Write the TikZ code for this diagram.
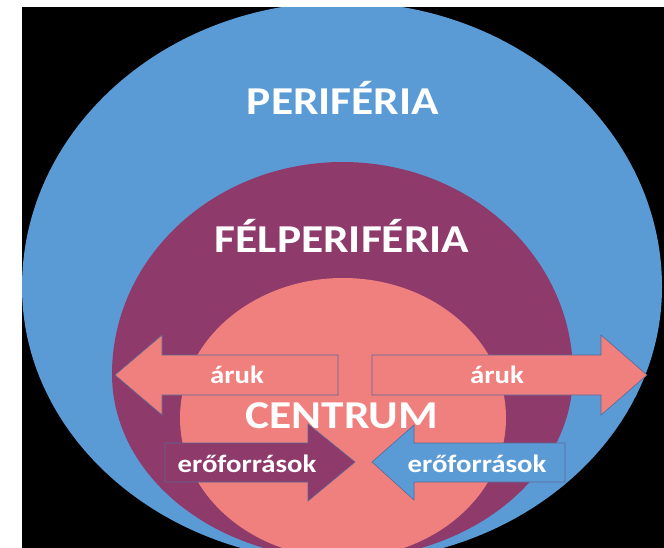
\documentclass[tikz,border=0pt]{standalone}
\usepackage{fontspec}
\setmainfont{Carlito}
\newfontfamily\diagfont[FakeStretch=1.15]{Carlito}

\definecolor{outerblue}{RGB}{91,155,213}
\definecolor{midpurple}{RGB}{142,59,108}
\definecolor{corepink}{RGB}{240,128,126}
\definecolor{edgeblue}{RGB}{88,104,150}

\begin{document}
\begin{tikzpicture}[
    x=1pt, y=-1pt,
    ringtext/.style={font=\diagfont\bfseries\fontsize{39.5}{40}\selectfont, text=white, anchor=base, inner sep=0pt},
    flowtext/.style={font=\diagfont\bfseries\fontsize{25}{26}\selectfont, text=white, anchor=base, inner sep=0pt},
    flow/.style={draw=edgeblue, line width=0.6pt, line join=miter}
]
\useasboundingbox (0,0) rectangle (664,548);
\fill[white] (0,0) rectangle (664,548);

% ============= BACKGROUND AND RINGS =============
\fill[black] (22,7) rectangle (664,548);
\begin{scope}
  \clip (22,7) rectangle (664,548);
  % outer ring: upper half a little taller than the lower half
  \clip (22,287) arc[start angle=180, end angle=360, x radius=320, y radius=285]
                 arc[start angle=0, end angle=180, x radius=320, y radius=275] -- cycle;
  \fill[outerblue] (22,7) rectangle (664,548);
  \fill[midpurple] (112,374) arc[start angle=180, end angle=360, x radius=230.5, y radius=212]
                             arc[start angle=0, end angle=180, x radius=230.5, y radius=185] -- cycle;
  \fill[corepink]  (343,418) ellipse [x radius=163, y radius=140];
\end{scope}

% ============= FLOWS =============
% goods going out
\filldraw[flow, fill=corepink] (115,375) -- (162,335) -- (162,355) -- (338,355) -- (338,395) -- (162,395) -- (162,415) -- cycle;
\filldraw[flow, fill=corepink] (647,375) -- (601,335) -- (601,355) -- (372,355) -- (372,395) -- (601,395) -- (601,415) -- cycle;
% resources coming in
\filldraw[flow, fill=midpurple] (355,462) -- (308,424) -- (308,443) -- (165,443) -- (165,482) -- (308,482) -- (308,501) -- cycle;
\filldraw[flow, fill=outerblue] (372,462) -- (414,425) -- (414,443) -- (565,443) -- (565,482) -- (414,482) -- (414,500) -- cycle;

% ============= LABELS =============
\node[ringtext] (periferia) at (343,115) {PERIFÉRIA};
\node[ringtext] (felperiferia) at (342,252) {FÉLPERIFÉRIA};
\node[ringtext] (centrum) at (342,428) {CENTRUM};

\node[flowtext] (arukleft) at (237,383) {áruk};
\node[flowtext] (arukright) at (497,383) {áruk};
\node[flowtext] (eroleft) at (247,472) {erőforrások};
\node[flowtext] (eroright) at (477,472) {erőforrások};

\end{tikzpicture}
\end{document}
